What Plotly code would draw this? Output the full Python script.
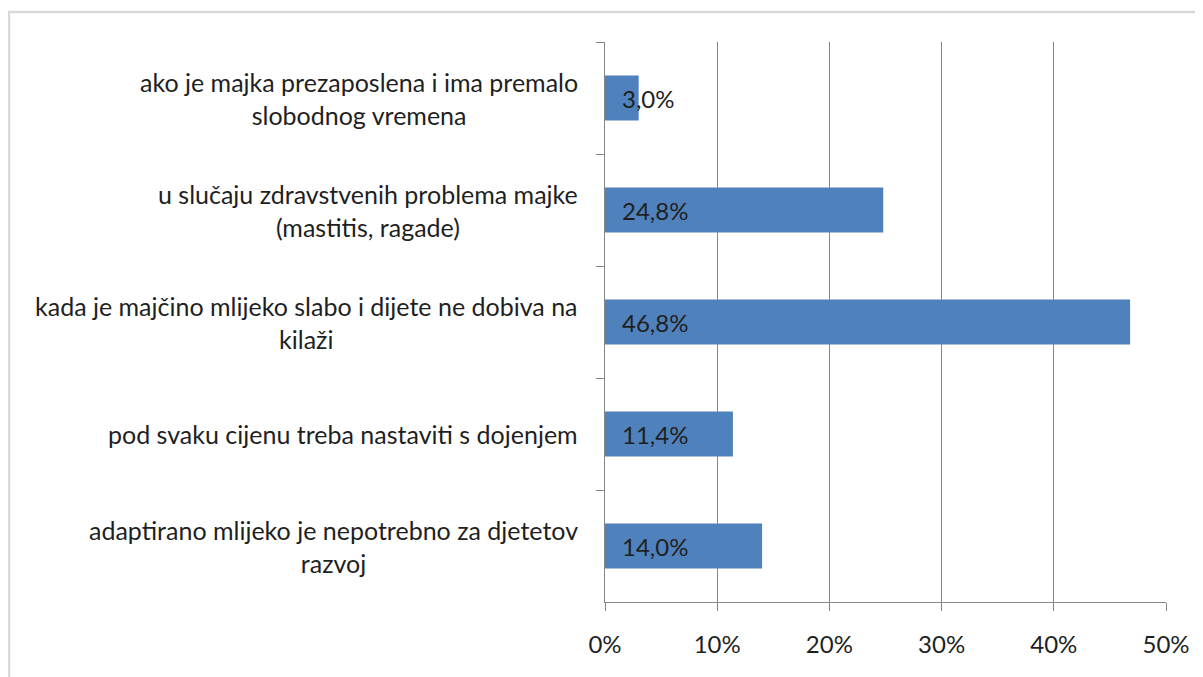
import plotly.graph_objects as go

categories = [
    "ako je majka prezaposlena i ima premalo<br>slobodnog vremena",
    "u slučaju zdravstvenih problema majke<br>(mastitis, ragade)",
    "kada je majčino mlijeko slabo i dijete ne dobiva na<br>kilaži",
    "pod svaku cijenu treba nastaviti s dojenjem",
    "adaptirano mlijeko je nepotrebno za djetetov<br>razvoj",
]
values = [0.030, 0.248, 0.468, 0.114, 0.140]
x_ticks = [0, 0.1, 0.2, 0.3, 0.4, 0.5]
x_tick_labels = ["0%", "10%", "20%", "30%", "40%", "50%"]

FONT = "Lato"
FS = 24
TXT = "#1f1f1f"
GRID = "#868686"

fig = go.Figure()
fig.add_trace(go.Bar(
    x=values, y=categories, orientation="h",
    marker=dict(color="#4f81bd", line=dict(width=0)),
    hoverinfo="skip",
))

annotations = []
for cat, v in zip(categories, values):
    annotations.append(dict(
        x=0, y=cat, xref="paper", yref="y", xanchor="right", yanchor="middle",
        xshift=-25, text=cat, showarrow=False, align="center",
        font=dict(family=FONT, size=25, color=TXT),
    ))
    annotations.append(dict(
        x=0, y=cat, xref="x", yref="y", xanchor="left", yanchor="middle",
        xshift=15, text=f"{v*100:.1f}%".replace(".", ","), showarrow=False,
        font=dict(family=FONT, size=FS, color=TXT),
    ))

# page body has an 8px default margin
OFF = 8
W, H = 1203 - OFF, 677 - OFF
L, R, T, B = 605 - OFF, 37, 42 - OFF, 75
pw = W - L - R
ph = H - T - B

fig.update_layout(
    width=W, height=H,
    margin=dict(l=L, r=R, t=T, b=B),
    paper_bgcolor="white", plot_bgcolor="white",
    showlegend=False,
    bargap=0.6,
    annotations=annotations,
    shapes=[dict(
        type="rect", xref="paper", yref="paper",
        x0=(9 - 605) / pw, x1=(1220 - 605) / pw,
        y0=-(700 - 602) / ph, y1=(602 - 12) / ph,
        line=dict(color="#d9d9d9", width=2.5), layer="below",
    )],
    xaxis=dict(
        range=[0, 0.5], tickvals=x_ticks, ticktext=x_tick_labels,
        showgrid=True, gridcolor=GRID, gridwidth=1,
        zeroline=False, showline=True, linecolor=GRID, linewidth=1,
        ticks="outside", ticklen=8, tickcolor=GRID,
        ticklabelstandoff=13,
        tickfont=dict(family=FONT, size=FS, color=TXT),
        fixedrange=True,
    ),
    yaxis=dict(
        autorange="reversed", type="category",
        showticklabels=False,
        showline=True, linecolor=GRID, linewidth=1,
        ticks="outside", ticklen=8, tickcolor=GRID, tickson="boundaries",
        showgrid=False, zeroline=False,
        fixedrange=True,
    ),
)

fig.write_html("out.html")
